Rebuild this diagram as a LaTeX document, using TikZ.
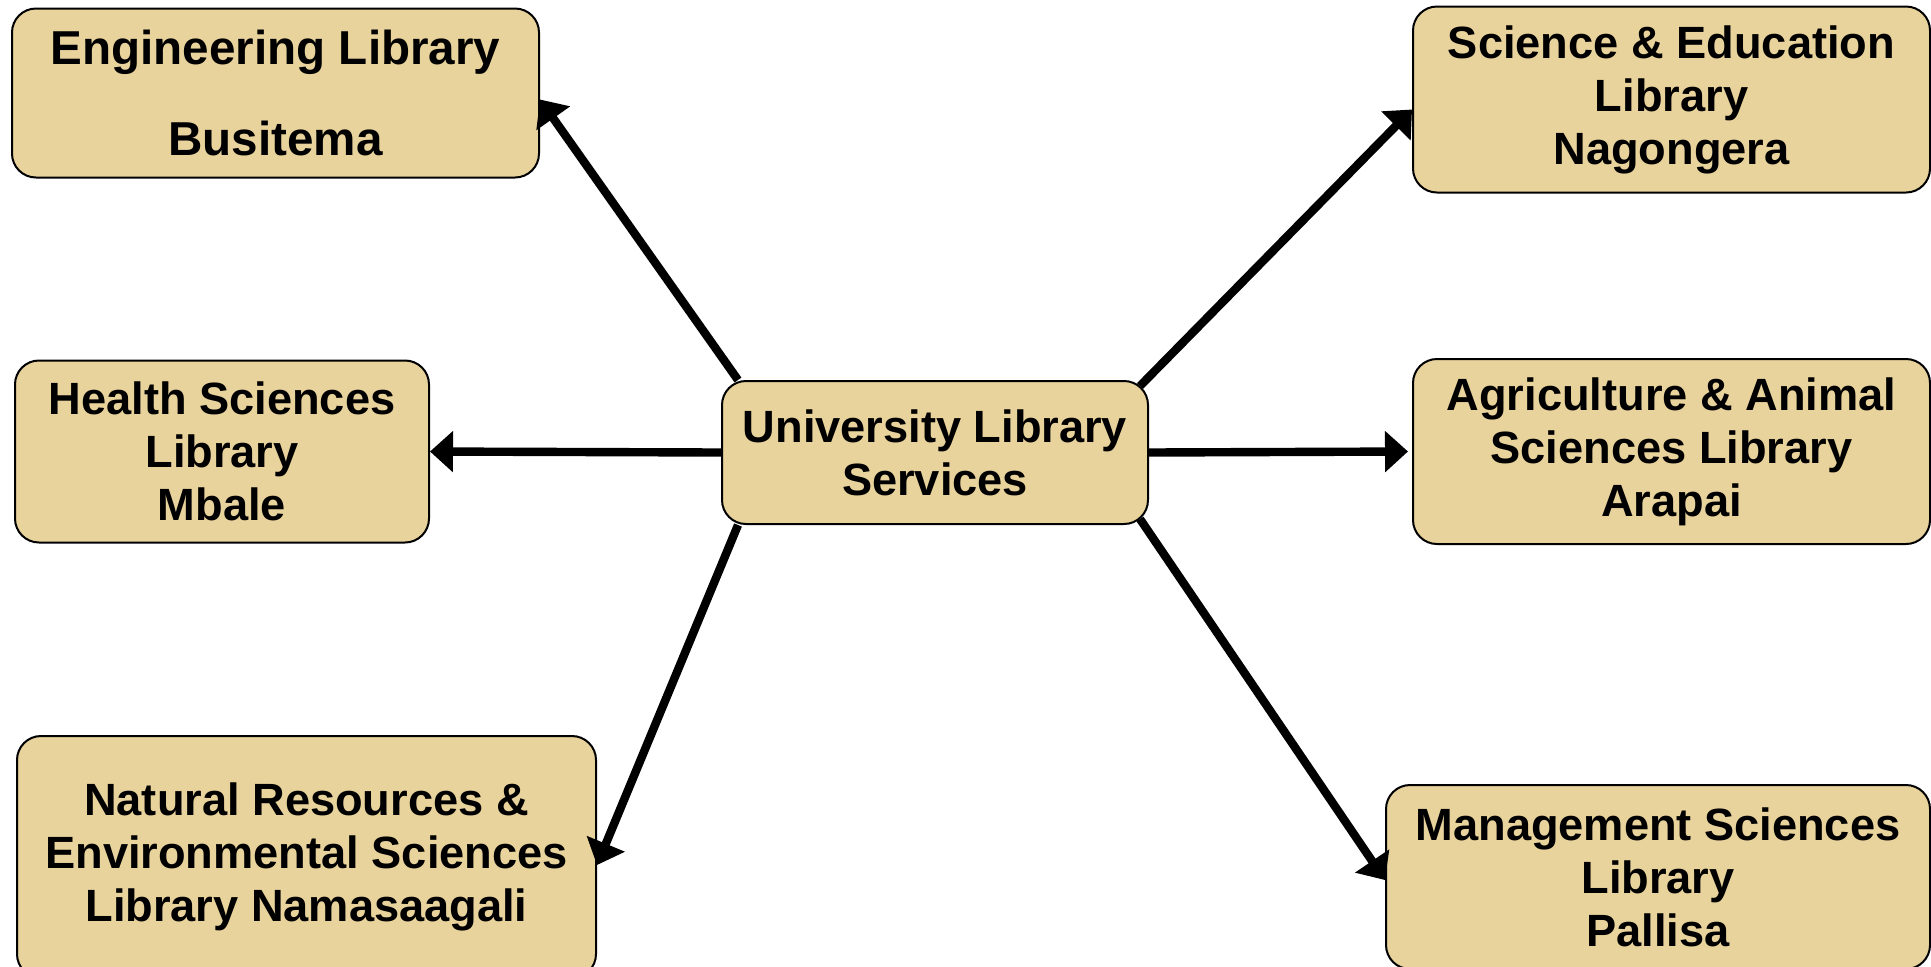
\documentclass[tikz,border=0pt]{standalone}
\usepackage{fontspec}
\setmainfont{Liberation Sans}
\usetikzlibrary{arrows.meta}
\definecolor{parch}{RGB}{233,211,156}
\begin{document}
\begin{tikzpicture}[x=0.5pt,y=-0.5pt,
  box/.style={draw=black,line width=1pt,rounded corners=12pt,fill=parch,align=center,
    font=\fontsize{22.6}{26.5}\selectfont\bfseries,inner sep=0pt},
  arr/.style={line width=4.2pt,-{Triangle[length=11.5pt,width=20pt]}}]
\useasboundingbox (0,0) rectangle (1931,966);
\node[box,minimum width=263.5pt,minimum height=84.5pt,font=\fontsize{23.8}{26.5}\selectfont\bfseries] (eng) at (275.5,93) {Engineering Library\\[19pt]Busitema};
\node[box,minimum width=258.5pt,minimum height=93pt] (sci) at (1671.5,99.5) {Science \& Education\\Library\\Nagongera};
\node[box,minimum width=207pt,minimum height=91pt] (hea) at (222,451.5) {Health Sciences\\Library\\Mbale};
\node[box,minimum width=213pt,minimum height=71.5pt] (uls) at (935,452.5) {University Library\\Services};
\node[box,minimum width=258.5pt,minimum height=92.5pt] (agr) at (1671.5,451.5) {Agriculture \& Animal\\Sciences Library\\Arapai};
\node[box,minimum width=289.5pt,minimum height=121pt] (nat) at (306.5,857) {Natural Resources \&\\Environmental Sciences\\Library Namasaagali};
\node[box,minimum width=272pt,minimum height=92pt] (man) at (1658,877) {Management Sciences\\Library\\Pallisa};
\draw[arr] ([xshift=8.5pt]uls.north west) -- ([yshift=-3.25pt]eng.east);
\draw[arr] ([xshift=-4.5pt,yshift=-3pt]uls.north east) -- ([yshift=-5pt]sci.west);
\draw[arr] (uls.west) -- (hea.east);
\draw[arr] (uls.east) -- ([xshift=-2pt]agr.west);
\draw[arr] ([xshift=8.5pt]uls.south west) -- ([yshift=-4pt]nat.east);
\draw[arr] ([xshift=-4.5pt,yshift=3pt]uls.south east) -- ([yshift=-1.5pt]man.west);
\end{tikzpicture}
\end{document}
